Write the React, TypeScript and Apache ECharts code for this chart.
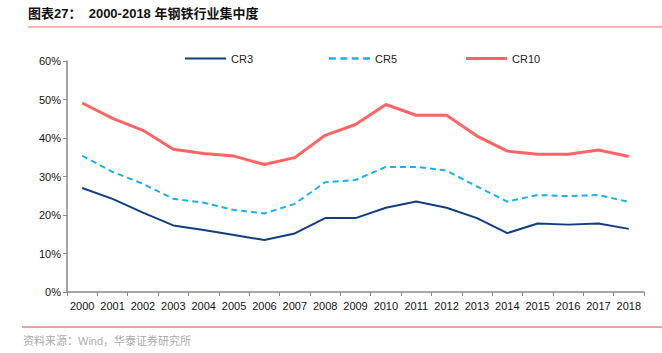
import React, { useEffect, useRef } from "react";
import * as echarts from "echarts";

const years = ["2000","2001","2002","2003","2004","2005","2006","2007","2008","2009","2010","2011","2012","2013","2014","2015","2016","2017","2018"];
const cr3 = [27.0, 24.2, 20.6, 17.3, 16.1, 14.8, 13.5, 15.2, 19.2, 19.2, 21.9, 23.5, 21.9, 19.2, 15.3, 17.8, 17.5, 17.8, 16.4];
const cr5 = [35.4, 31.2, 28.1, 24.2, 23.2, 21.3, 20.4, 22.9, 28.5, 29.1, 32.5, 32.5, 31.5, 27.4, 23.5, 25.2, 24.9, 25.2, 23.4];
const cr10 = [49.1, 45.1, 42.0, 37.1, 36.0, 35.3, 33.1, 34.9, 40.7, 43.5, 48.7, 45.9, 45.9, 40.5, 36.6, 35.8, 35.8, 36.9, 35.2];

const FONT = "'Liberation Sans', Arial, sans-serif";

const legendItem = (name: string, left: number, icon: string) => ({
  top: 48,
  left,
  itemWidth: 41,
  itemHeight: 12,
  textStyle: { fontSize: 11, color: "#222", fontFamily: FONT },
  data: [{ name, icon }],
});

export default function App() {
  const ref = useRef<HTMLDivElement>(null);
  useEffect(() => {
    if (!ref.current) return;
    const chart = echarts.init(ref.current, null, { renderer: "svg" });
    chart.setOption({
      animation: false,
      backgroundColor: "#ffffff",
      textStyle: { fontFamily: FONT },
      grid: { left: 67, right: 18, top: 61, bottom: 61 },
      legend: [
        legendItem("CR3", 180, "path://M0,5 L41,5 L41,7 L0,7 Z"),
        legendItem("CR5", 324, "path://M0,5 L6,5 L6,7 L0,7 Z M10,5 L16,5 L16,7 L10,7 Z M20,5 L26,5 L26,7 L20,7 Z M30,5 L36,5 L36,7 L30,7 Z"),
        legendItem("CR10", 461, "path://M0,4.5 L41,4.5 L41,7.5 L0,7.5 Z"),
      ],
      xAxis: {
        type: "category",
        data: years,
        boundaryGap: true,
        axisLine: { lineStyle: { color: "#888", width: 1.5 } },
        axisTick: { show: true, length: 4, lineStyle: { color: "#888" } },
        axisLabel: { fontSize: 11, color: "#111", margin: 8, interval: 0, fontFamily: FONT },
        splitLine: { show: false },
      },
      yAxis: {
        type: "value",
        min: 0,
        max: 60,
        interval: 10,
        axisLine: { show: true, lineStyle: { color: "#888", width: 1.5 } },
        axisTick: { show: true, length: 4, lineStyle: { color: "#888" } },
        axisLabel: { fontSize: 11, color: "#111", formatter: "{value}%", margin: 6, fontFamily: FONT },
        splitLine: { show: false },
      },
      series: [
        { name: "CR3", type: "line", data: cr3, symbol: "none", lineStyle: { color: "#113f7d", width: 2 }, itemStyle: { color: "#113f7d" } },
        { name: "CR5", type: "line", data: cr5, symbol: "none", lineStyle: { color: "#1ab0ef", width: 2, type: [6, 4] }, itemStyle: { color: "#1ab0ef" } },
        { name: "CR10", type: "line", data: cr10, symbol: "none", lineStyle: { color: "#ff6464", width: 3 }, itemStyle: { color: "#ff6464" } },
      ],
      graphic: [
        { type: "text", left: 28, top: 7, style: { text: "图表27：  2000-2018 年钢铁行业集中度", fontSize: 13, fontWeight: "bold", fill: "#111", fontFamily: "'Liberation Sans', 'Noto Sans CJK SC', sans-serif" } },
        { type: "line", shape: { x1: 28, y1: 27, x2: 662, y2: 27 }, style: { stroke: "#ec6a60", lineWidth: 1 } },
        { type: "line", shape: { x1: 22, y1: 327, x2: 662, y2: 327 }, style: { stroke: "#d9483b", lineWidth: 1 } },
        { type: "text", left: 23, top: 335, style: { text: "资料来源：Wind，华泰证券研究所", fontSize: 11, fill: "#aaa", fontFamily: "'Liberation Sans', 'Noto Sans CJK SC', sans-serif" } },
      ],
    });
    return () => chart.dispose();
  }, []);
  return <div ref={ref} style={{ position: "fixed", left: 0, top: 0, width: 662, height: 353 }} />;
}
